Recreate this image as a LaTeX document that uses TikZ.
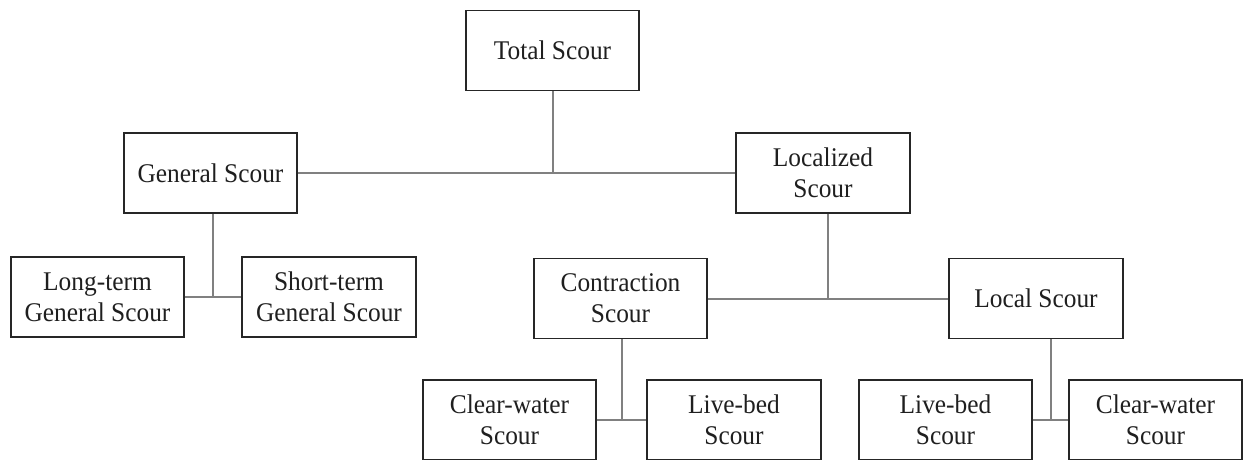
\documentclass[tikz,border=0pt]{standalone}
\usepackage{fontspec}
\setmainfont[FakeStretch=0.94]{Liberation Serif}
\usetikzlibrary{calc}
\tikzset{
  box/.style={draw=black!85, line width=1.4pt, fill=white, text=black!88, align=center,
    minimum width=173pt, minimum height=80pt, inner sep=0pt,
    font=\fontsize{27}{31}\selectfont},
  link/.style={draw=black!50, line width=2pt}
}
\begin{document}
\begin{tikzpicture}[x=1pt,y=-1pt]
\useasboundingbox (0,0) rectangle (1243,460);
\node[box] (total) at (552.5,50.5) {Total Scour};
\node[box] (general) at (210.5,173) {General Scour};
\node[box, minimum width=174pt] (localized) at (823,173) {Localized\\Scour};
\node[box] (longterm) at (97.5,297) {Long-term\\General Scour};
\node[box, minimum width=174pt] (shortterm) at (329,297) {Short-term\\General Scour};
\node[box] (contraction) at (620.5,298.5) {Contraction\\Scour};
\node[box, minimum width=174pt] (local) at (1036,298.5) {Local Scour};
\node[box] (cwone) at (509.5,420) {Clear-water\\Scour};
\node[box, minimum width=174pt] (lbone) at (734,420) {Live-bed\\Scour};
\node[box] (lbtwo) at (945.5,420) {Live-bed\\Scour};
\node[box] (cwtwo) at (1155.5,420) {Clear-water\\Scour};
% level 1
\draw[link] (general.east) -- (localized.west);
\draw[link] (total.south) -- (total.south |- general.east);
% general children
\coordinate (jg) at ($(longterm.east)!0.5!(shortterm.west)$);
\draw[link] (longterm.east) -- (shortterm.west);
\draw[link] (jg) -- (general.south -| jg);
% localized children
\coordinate (jl) at ($(contraction.east)!0.5!(local.west)$);
\draw[link] (contraction.east) -- (local.west);
\draw[link] (jl) -- (localized.south -| jl);
% contraction children
\coordinate (jc) at ($(cwone.east)!0.5!(lbone.west)$);
\draw[link] (cwone.east) -- (lbone.west);
\draw[link] (jc) -- (contraction.south -| jc);
% local children
\coordinate (jo) at ($(lbtwo.east)!0.5!(cwtwo.west)$);
\draw[link] (lbtwo.east) -- (cwtwo.west);
\draw[link] (jo) -- (local.south -| jo);
\end{tikzpicture}
\end{document}
